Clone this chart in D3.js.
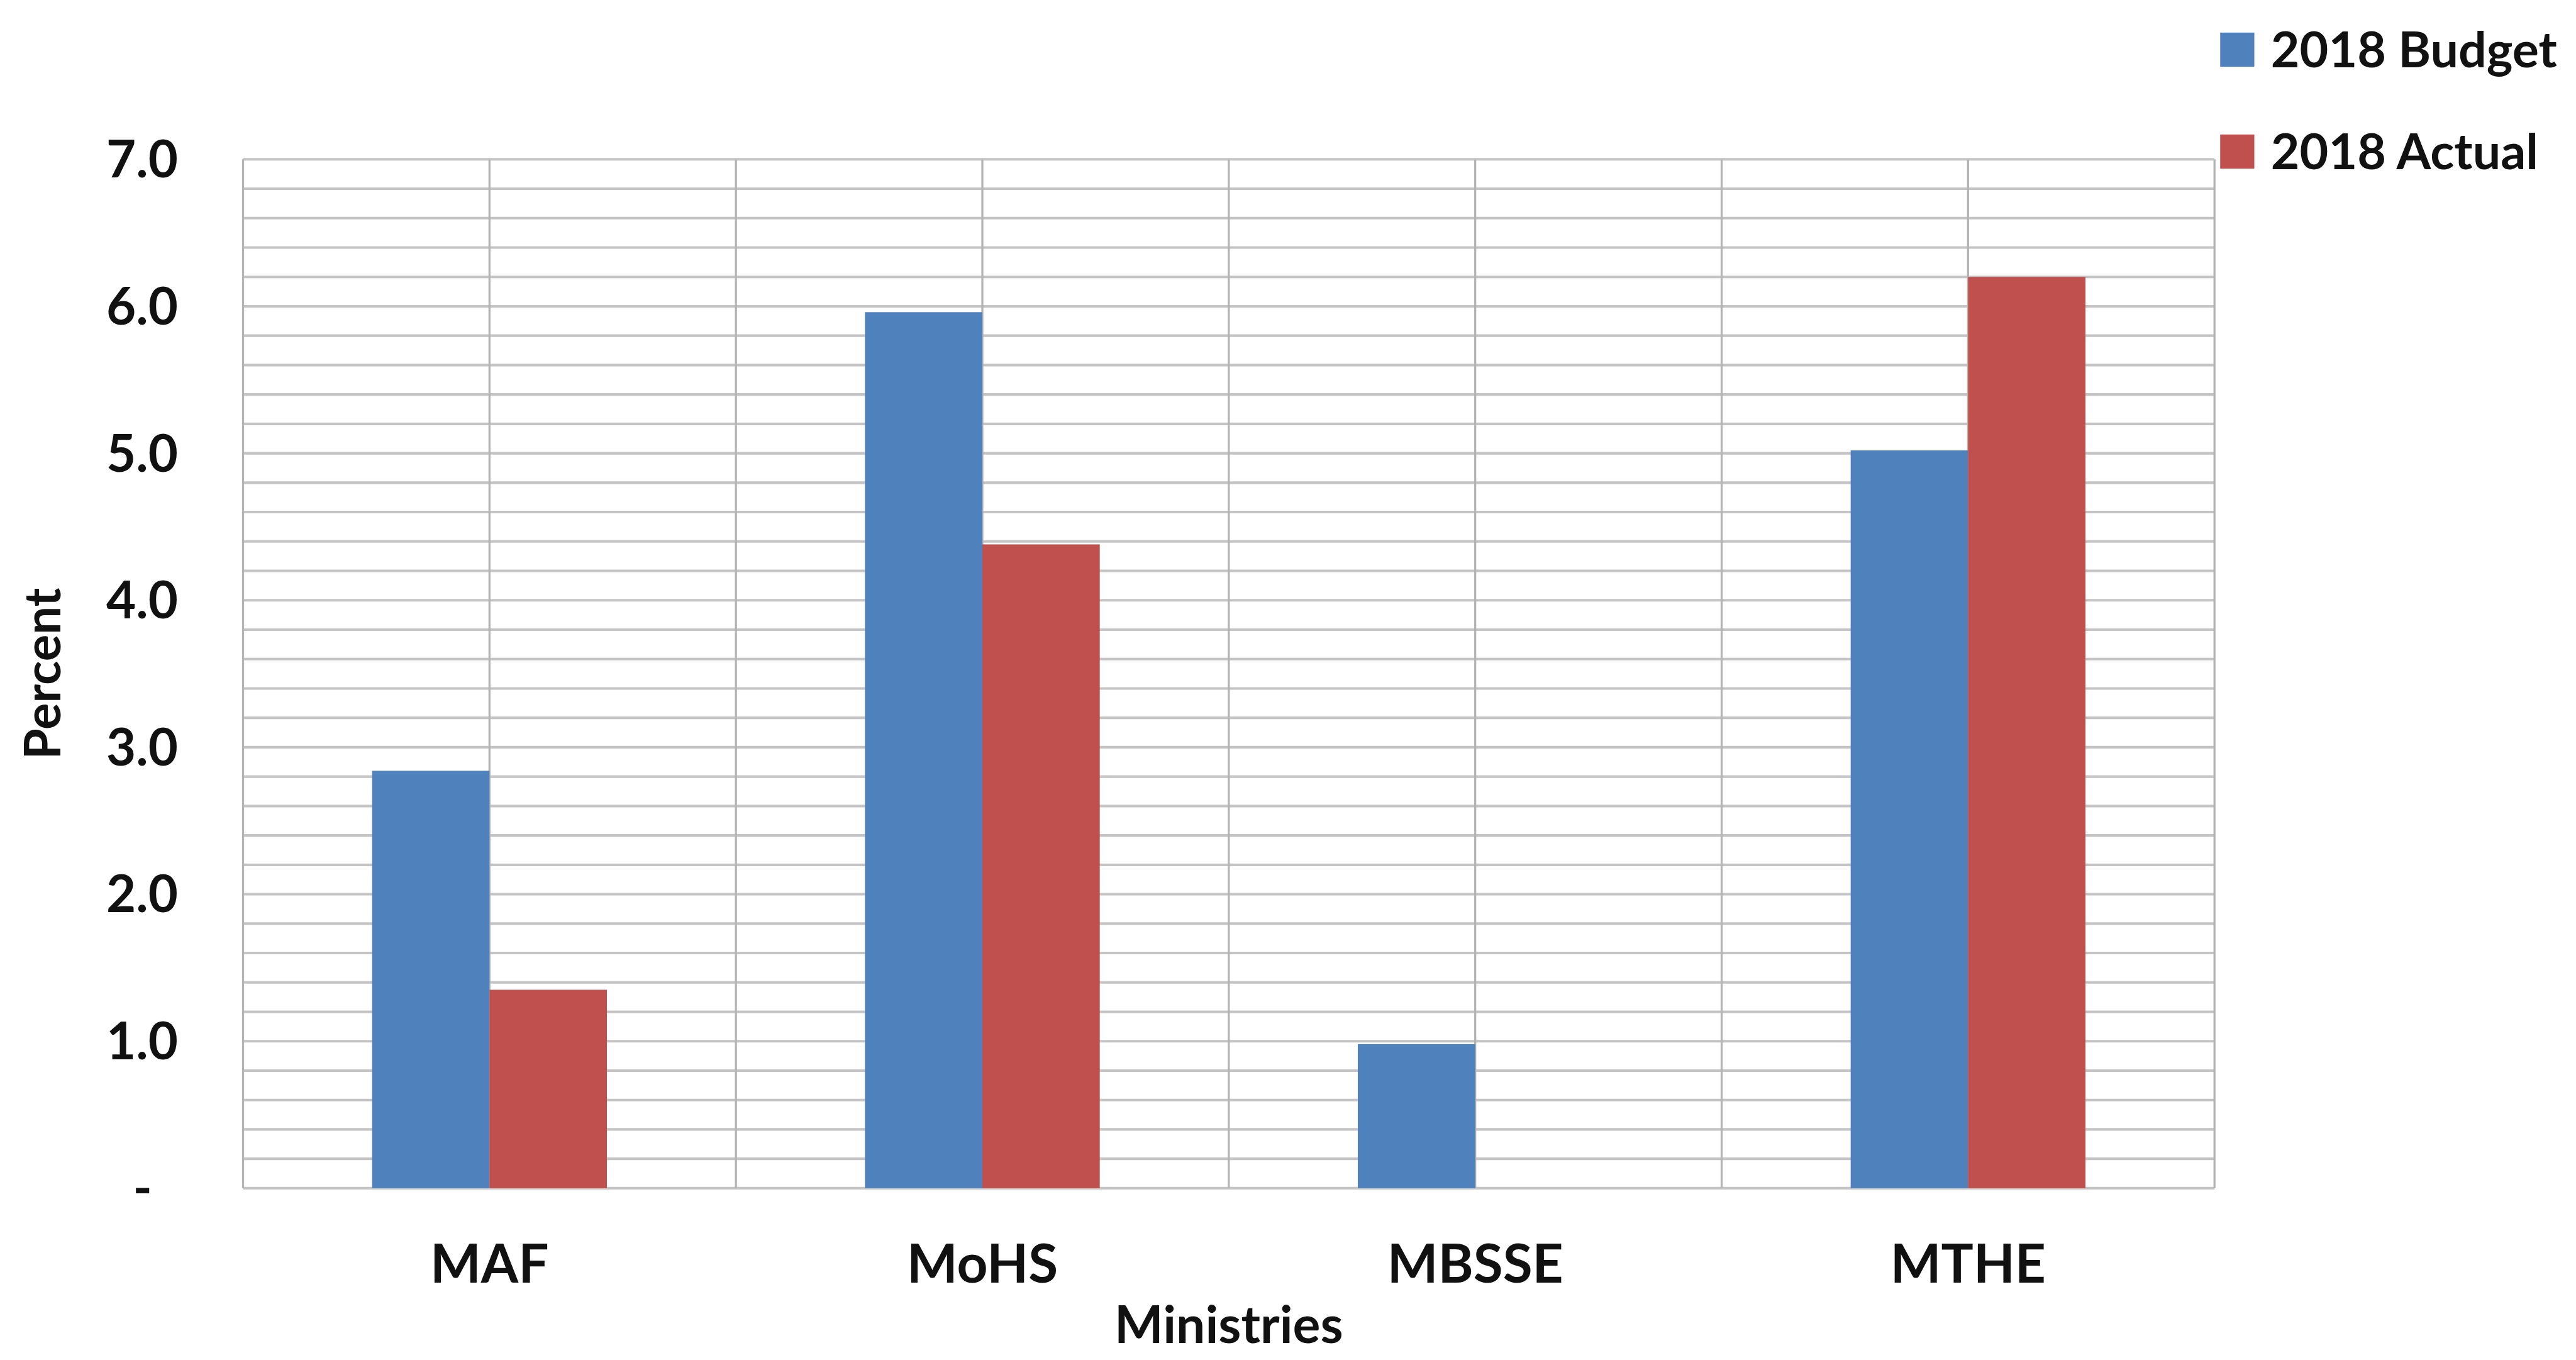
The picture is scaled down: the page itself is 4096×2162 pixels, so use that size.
<!DOCTYPE html>
<html>
<head>
<meta charset="utf-8">
<script src="https://cdn.jsdelivr.net/npm/d3@7"></script>
<style>
  html, body { margin: 0; padding: 0; background: #fff; }
  svg { display: block; }
  text { font-family: Lato, "Open Sans", sans-serif; font-weight: 700; fill: #111; }
</style>
</head>
<body>
<script>
// Ministries and their 2018 shares (percent)
const ministries = ["MAF", "MoHS", "MBSSE", "MTHE"];
const seriesNames = ["2018 Budget", "2018 Actual"];
const budget2018 = [2.84, 5.96, 0.98, 5.02];
const actual2018 = [1.35, 4.38, 0, 6.2];
const seriesColors = ["#4f81bd", "#c0504d"];
const yTicks = [0, 1, 2, 3, 4, 5, 6, 7];
const yMinorStep = 0.2;

const W = 4096, H = 2162;
const base = { w: 4981, h: 2629 };
const k = W / base.w;

const svg = d3.select("body").append("svg")
  .attr("width", W).attr("height", H);

// all geometry below is laid out on a 4981 x 2629 canvas, then scaled
const root = svg.append("g").attr("transform", `scale(${k})`);

const plot = { left: 470, right: 4282, top: 308, bottom: 2297 };

const x0 = d3.scaleBand().domain(ministries).range([plot.left, plot.right]).padding(0);
const bw = x0.bandwidth();
const groupW = bw * 0.4764;
const x1 = d3.scaleBand().domain(seriesNames)
  .range([(bw - groupW) / 2, (bw + groupW) / 2]).padding(0);
const y = d3.scaleLinear().domain([0, 7]).range([plot.bottom, plot.top]);

// horizontal gridlines every 0.2
const gridVals = d3.range(0, 7 + 1e-9, yMinorStep).map(v => +v.toFixed(1));
root.append("g").selectAll("line").data(gridVals).join("line")
  .attr("x1", plot.left).attr("x2", plot.right)
  .attr("y1", d => y(d)).attr("y2", d => y(d))
  .attr("stroke", "#c4c4c4").attr("stroke-width", 5);

// vertical gridlines at category edges and centres
const vVals = [];
ministries.forEach(m => { vVals.push(x0(m)); vVals.push(x0(m) + bw / 2); });
vVals.push(plot.right);
root.append("g").selectAll("line").data(vVals).join("line")
  .attr("x1", d => d).attr("x2", d => d)
  .attr("y1", plot.top).attr("y2", plot.bottom)
  .attr("stroke", "#b4b4b4").attr("stroke-width", 4);

// bars
const rows = ministries.map((m, i) => ({
  m, vals: [{ s: seriesNames[0], v: budget2018[i], c: seriesColors[0] },
            { s: seriesNames[1], v: actual2018[i], c: seriesColors[1] }]
}));
root.append("g").selectAll("g").data(rows).join("g")
  .attr("transform", d => `translate(${x0(d.m)},0)`)
  .selectAll("rect").data(d => d.vals.filter(e => e.v > 0)).join("rect")
  .attr("x", d => x1(d.s)).attr("width", x1.bandwidth())
  .attr("y", d => y(d.v)).attr("height", d => y(0) - y(d.v))
  .attr("fill", d => d.c);

// y axis labels
const yAxis = d3.axisLeft(y).tickValues(yTicks).tickSize(0).tickPadding(0)
  .tickFormat(d => d === 0 ? "-" : d3.format(".1f")(d));
const gy = root.append("g").attr("transform", `translate(344,0)`).call(yAxis);
gy.select(".domain").remove();
gy.selectAll("text")
  .attr("font-size", 99).attr("font-family", "Lato, sans-serif").attr("fill", "#111")
  .attr("dy", "0.35em")
  .attr("x", d => d === 0 ? -50 : 0);

// x axis labels
const xAxis = d3.axisBottom(x0).tickSize(0).tickPadding(0);
const gx = root.append("g").attr("transform", `translate(0,2479)`).call(xAxis);
gx.select(".domain").remove();
gx.selectAll("text")
  .attr("font-size", 104).attr("font-family", "Lato, sans-serif").attr("fill", "#111")
  .attr("dy", 0).attr("y", 0);

// axis titles
root.append("text")
  .attr("x", (plot.left + plot.right) / 2).attr("y", 2596)
  .attr("text-anchor", "middle").attr("font-size", 100).text("Ministries");
root.append("text")
  .attr("transform", `translate(117,${(plot.top + plot.bottom) / 2}) rotate(-90)`)
  .attr("text-anchor", "middle").attr("font-size", 97).text("Percent");

// legend
const legend = root.append("g").selectAll("g").data(seriesNames).join("g")
  .attr("transform", (d, i) => `translate(4293,${[96, 293][i]})`);
legend.append("rect").attr("x", 0).attr("y", -33).attr("width", 66).attr("height", 66)
  .attr("fill", (d, i) => seriesColors[i]);
legend.append("text").attr("x", 98).attr("y", 0).attr("dy", "0.36em")
  .attr("font-size", 96).text(d => d);
</script>
</body>
</html>
